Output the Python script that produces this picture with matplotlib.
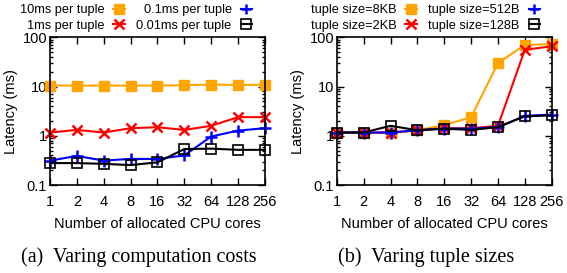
import matplotlib
matplotlib.use("Agg")
import matplotlib.pyplot as plt
import numpy as np

plt.rcParams['font.family'] = ['Liberation Sans', 'DejaVu Sans']

cores = ['1', '2', '4', '8', '16', '32', '64', '128', '256']

# (a) computation cost per tuple
cost_10ms = [10.5, 10.5, 10.5, 10.5, 10.5, 10.7, 11.0, 10.8, 10.9]
cost_1ms = [1.17, 1.32, 1.17, 1.43, 1.5, 1.32, 1.6, 2.4, 2.4]
cost_01ms = [0.315, 0.39, 0.315, 0.34, 0.34, 0.40, 0.97, 1.28, 1.43]
cost_001ms = [0.28, 0.28, 0.27, 0.255, 0.29, 0.54, 0.55, 0.52, 0.52]

# (b) tuple size
size_8kb = [1.17, 1.17, 1.13, 1.3, 1.65, 2.4, 30, 70, 73]
size_2kb = [1.17, 1.17, 1.17, 1.3, 1.43, 1.43, 1.6, 56, 66]
size_512b = [1.17, 1.17, 1.17, 1.3, 1.4, 1.4, 1.5, 2.55, 2.7]
size_128b = [1.17, 1.17, 1.6, 1.3, 1.4, 1.32, 1.5, 2.5, 2.6]

styles = [
    dict(color='#FFA500', marker='s', ms=7.8, mfc='#FFA500', mec='#FFA500'),
    dict(color='#FF0000', marker='x', ms=7.5, mew=1.8),
    dict(color='#0000FF', marker='+', ms=8, mew=1.8),
    dict(color='black', marker='s', ms=7.5, mfc='none', mew=1.2),
]

fig = plt.figure(figsize=(5.67, 2.73), dpi=100)
ax_a = fig.add_axes([0.0882, 0.322, 0.379, 0.541])
ax_b = fig.add_axes([0.594, 0.322, 0.379, 0.541])

x = np.arange(len(cores))


def draw(ax, series, labels, caption, leg_x, cap_x):
    lines = []
    for ys, st in zip(series, styles):
        ln, = ax.plot(x, ys, lw=1.5, clip_on=False, **st)
        lines.append(ln)
    ax.set_yscale('log')
    ax.set_ylim(0.1, 100)
    ax.set_xlim(0, len(cores) - 1)
    ax.set_xticks(x)
    ax.set_xticklabels(cores)
    ax.tick_params(axis='both', which='both', direction='in',
                   top=True, right=True, labelsize=10.5, width=1)
    ax.tick_params(axis='both', which='major', length=5)
    ax.tick_params(axis='y', which='minor', length=2.5)
    ax.tick_params(axis='x', which='major', pad=7)
    ax.tick_params(axis='y', which='major', pad=2)
    ax.set_yticks([0.1, 1, 10, 100])
    ax.set_yticklabels(['0.1', '1', '10', '100'])
    for sp in ax.spines.values():
        sp.set_linewidth(1.2)
    ax.set_xlabel('Number of allocated CPU cores', fontsize=10.5, labelpad=6)
    ax.set_ylabel('Latency (ms)', fontsize=10.5, labelpad=3)
    # legend: two columns, text then marker (gnuplot style)
    leg = ax.legend(lines, labels,
                    ncol=2, markerfirst=False, frameon=False, fontsize=9.2,
                    handlelength=0.9, handletextpad=0.7, columnspacing=0.9,
                    labelspacing=0.3, borderpad=0, borderaxespad=0,
                    loc='lower left', bbox_to_anchor=(leg_x, 0.883),
                    bbox_transform=fig.transFigure)
    for h in leg.legend_handles:
        h.set_markersize(h.get_markersize() * 0.9)
    fig.text(cap_x, 0.059, caption, ha='center',
             va='center', fontsize=14.5, family='Liberation Serif')


draw(ax_a, [cost_10ms, cost_1ms, cost_01ms, cost_001ms],
     ['10ms per tuple', '1ms per tuple', '0.1ms per tuple', '0.01ms per tuple'],
     '(a)  Varing computation costs', 0.035, 0.245)
draw(ax_b, [size_8kb, size_2kb, size_512b, size_128b],
     ['tuple size=8KB', 'tuple size=2KB', 'tuple size=512B', 'tuple size=128B'],
     '(b)  Varing tuple sizes', 0.548, 0.752)

fig.savefig('out.png', dpi=100)
